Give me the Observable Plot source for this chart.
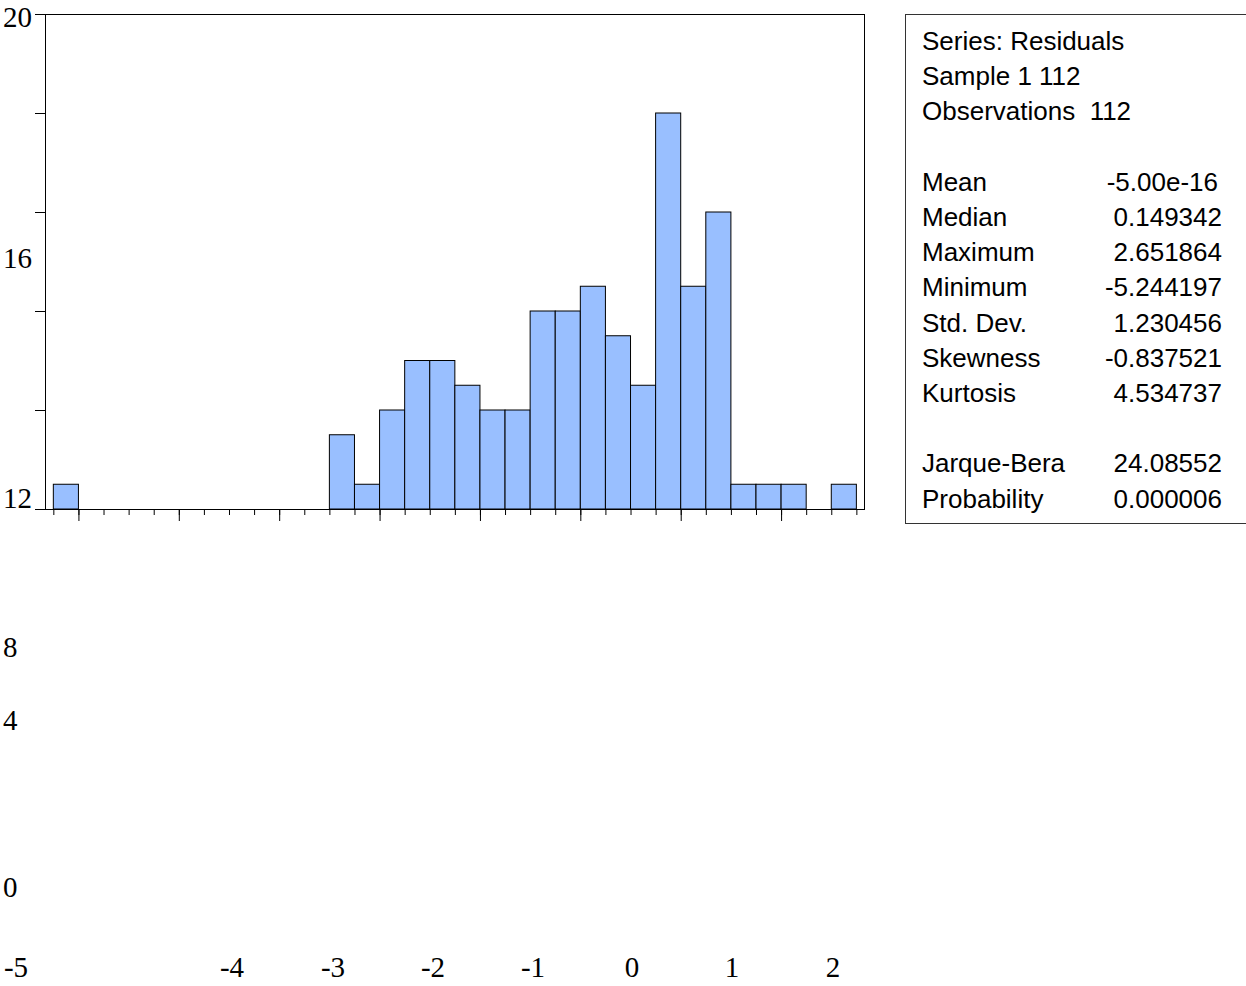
<!DOCTYPE html>
<html>
<head>
<meta charset="utf-8">
<script src="https://cdn.jsdelivr.net/npm/d3@7"></script>
<script src="https://cdn.jsdelivr.net/npm/@observablehq/plot@0.6"></script>
<style>
  html, body { margin: 0; padding: 0; background: #fff; }
  #wrap { position: relative; width: 1246px; height: 986px; overflow: hidden; }
  #chart { position: absolute; left: 0; top: 0; }
  .lab { position: absolute; font-family: "Liberation Serif", "Times New Roman", serif; font-size: 29px; color: #000; line-height: 1; white-space: nowrap; }
  #stats { position: absolute; left: 905px; top: 14px; width: 400px; height: 510px; border: 1px solid #333; box-sizing: border-box; }
  .st { position: absolute; font-family: "Liberation Sans", Arial, sans-serif; font-size: 26px; color: #000; line-height: 1; white-space: nowrap; transform: translateY(-50%); }
</style>
</head>
<body>
<div id="wrap">
  <div id="chart"></div>
  <div id="stats"></div>
</div>
<script>
// ---- data ----
const binStarts = [-5.25, -5.0, -4.75, -4.5, -4.25, -4.0, -3.75, -3.5, -3.25, -3.0, -2.75, -2.5, -2.25, -2.0, -1.75, -1.5, -1.25, -1.0, -0.75, -0.5, -0.25, 0.0, 0.25, 0.5, 0.75, 1.0, 1.25, 1.5, 1.75, 2.0, 2.25, 2.5];
const counts    = [1, 0, 0, 0, 0, 0, 0, 0, 0, 0, 0, 3, 1, 4, 6, 6, 5, 4, 4, 8, 8, 9, 7, 5, 16, 9, 12, 1, 1, 1, 0, 1];
const binWidth = 0.25;
const majorTicksX = [-5, -4, -3, -2, -1, 0, 1, 2];
const minorTicksX = [-5.25, -5, -4.75, -4.5, -4.25, -4, -3.75, -3.5, -3.25, -3, -2.75, -2.5, -2.25, -2, -1.75, -1.5, -1.25, -1, -0.75, -0.5, -0.25, 0, 0.25, 0.5, 0.75, 1, 1.25, 1.5, 1.75, 2, 2.25, 2.5, 2.75];
const ticksY = [0, 4, 8, 12, 16, 20];

// misplaced tick labels as they appear in the reference
const yTickLabels = ["20", "16", "12", "8", "4", "0"];
const yLabelPos = [[3, 17], [3, 258], [3, 498], [3, 647], [3, 720], [3, 887]];
const xTickLabels = ["-5", "-4", "-3", "-2", "-1", "0", "1", "2"];
const xLabelPos = [[16, 967], [232, 967], [333, 967], [433, 967], [533, 967], [632, 967], [732, 967], [833, 967]];

const statLabels = ["Series: Residuals", "Sample 1 112", "Observations  112", "", "Mean", "Median", "Maximum", "Minimum", "Std. Dev.", "Skewness", "Kurtosis", "", "Jarque-Bera", "Probability"];
const statValues = ["", "", "", "", "-5.00e-16", "0.149342", "2.651864", "-5.244197", "1.230456", "-0.837521", "4.534737", "", "24.08552", "0.000006"];

const bins = binStarts.map((s, i) => ({x1: s, x2: s + binWidth, count: counts[i]})).filter(d => d.count > 0);

const plot = Plot.plot({
  width: 880,
  height: 530,
  marginLeft: 45,
  marginTop: 14,
  marginRight: 16,
  marginBottom: 21,
  style: {background: "transparent", overflow: "visible"},
  x: {domain: [-5.333, 2.826]},
  y: {domain: [0, 20]},
  marks: [
    Plot.rectY(bins, {x1: "x1", x2: "x2", y1: 0, y2: "count", fill: "#99bfff", stroke: "#000", strokeWidth: 1}),
    Plot.frame({stroke: "#000", strokeWidth: 1}),
    Plot.axisX({ticks: minorTicksX, tickSize: 6, tickFormat: () => "", label: null, anchor: "bottom", stroke: "#000"}),
    Plot.axisX({ticks: majorTicksX, tickSize: 12, tickFormat: () => "", label: null, anchor: "bottom", stroke: "#000"}),
    Plot.axisY({ticks: ticksY, tickSize: 10, tickFormat: () => "", label: null, anchor: "left", stroke: "#000"})
  ]
});
document.getElementById("chart").appendChild(plot);

const wrap = document.getElementById("wrap");
yTickLabels.forEach((t, i) => {
  const el = document.createElement("div");
  el.className = "lab";
  el.textContent = t;
  el.style.left = yLabelPos[i][0] + "px";
  el.style.top = yLabelPos[i][1] + "px";
  el.style.transform = "translateY(-50%)";
  wrap.appendChild(el);
});
xTickLabels.forEach((t, i) => {
  const el = document.createElement("div");
  el.className = "lab";
  el.textContent = t;
  el.style.left = xLabelPos[i][0] + "px";
  el.style.top = xLabelPos[i][1] + "px";
  el.style.transform = "translate(-50%, -50%)";
  wrap.appendChild(el);
});

const stats = document.getElementById("stats");
statLabels.forEach((t, i) => {
  const y = 26 + i * 35.2;
  if (t) {
    const el = document.createElement("div");
    el.className = "st";
    el.textContent = t;
    el.style.left = "16px";
    el.style.top = y + "px";
    el.style.whiteSpace = "pre";
    stats.appendChild(el);
  }
  if (statValues[i]) {
    const v = document.createElement("div");
    v.className = "st";
    v.textContent = statValues[i];
    v.style.right = (400 - 318 + (i === 4 ? 4 : 0)) + "px";
    v.style.top = y + "px";
    stats.appendChild(v);
  }
});
</script>
</body>
</html>
